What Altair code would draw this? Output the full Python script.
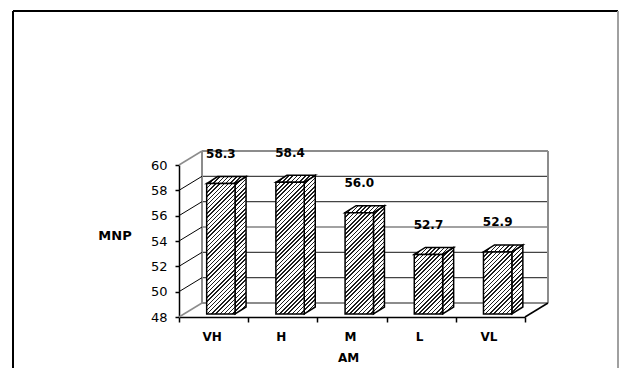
import json
import altair as alt
import pandas as pd

# ---------------- data ----------------
categories = ["VH", "H", "M", "L", "VL"]
mnp = [58.3, 58.4, 56.0, 52.7, 52.9]
y_ticks = [48, 50, 52, 54, 56, 58, 60]
x_title = "AM"
y_title = "MNP"

# ---------------- geometry / style ----------------
W, H = 346, 152
N = len(categories)
PX_X = W / N
Y_MIN, Y_MAX = y_ticks[0], y_ticks[-1]
PX_Y = H / (Y_MAX - Y_MIN)

WALL_DX = 23 / PX_X          # depth of the 3-D box (x units)
WALL_DY = 14 / PX_Y          # depth of the 3-D box (y units)
BAR_DY = 3 / PX_Y            # bars sit slightly behind the front plane
BAR_X0 = 0.40
BAR_W = 0.41
SIDE_DX = 11 / PX_X
SIDE_DY = 7 / PX_Y

FONT = "DejaVu Sans"

xs = alt.Scale(domain=[0, N], nice=False, zero=False)
ys = alt.Scale(domain=[Y_MIN, Y_MAX], nice=False, zero=False)


def hatch(w, h, period=4.2, frac=0.36, dark="#1e1e1e", light="#ffffff"):
    k = (w + h) / (w * w + h * h)
    n = (w + h) / period
    stops = []
    i = 0
    while i < n:
        a = round(i / n, 5)
        b = round(min((i + frac) / n, 1.0), 5)
        c = round(min((i + 1) / n, 1.0), 5)
        stops += [
            {"offset": a, "color": dark},
            {"offset": b, "color": dark},
            {"offset": b, "color": light},
            {"offset": c, "color": light},
        ]
        i += 1
    return {"gradient": "linear", "x1": 0, "y1": 0,
            "x2": round(k * w, 5), "y2": round(k * h, 5), "stops": stops}


x_axis = alt.Axis(
    values=list(range(N + 1)),
    labelExpr=f"datum.value < {N} ? {json.dumps(categories)}[datum.value] : ''",
    labelOffset=PX_X / 2 - 2, labelFlush=False, labelOverlap=False,
    labelFont=FONT, labelFontSize=12, labelFontWeight="bold", labelColor="black",
    labelPadding=9, tickSize=5, tickColor="black", tickWidth=1.5,
    domainColor="black", domainWidth=1.5, grid=False,
    title=x_title, titleFont=FONT, titleFontSize=12, titleFontWeight="bold",
    titleColor="black", titleX=169, titleY=40.5, titleBaseline="middle",
    titleAlign="center", titleAngle=0)

y_axis = alt.Axis(
    values=y_ticks, labelFont=FONT, labelFontSize=13, labelColor="black",
    labelOverlap=False, labelFlush=False,
    labelPadding=8, tickSize=4, tickColor="black", tickWidth=1.5,
    domainColor="black", domainWidth=1.5, grid=False,
    title=y_title, titleFont=FONT, titleFontSize=13, titleFontWeight="bold",
    titleColor="black", titleAngle=0, titleX=-64.5, titleY=70,
    titleAlign="center", titleBaseline="middle")


def X(field):
    return alt.X(field, scale=xs, axis=x_axis)


def Y(field):
    return alt.Y(field, scale=ys, axis=y_axis)


# ---------------- walls ----------------
grid_df = pd.DataFrame({"v": y_ticks})
grid_df["x0"] = 0.0
grid_df["xw"] = WALL_DX
grid_df["xe"] = N + WALL_DX
grid_df["vb"] = grid_df["v"] + WALL_DY
inner = grid_df[(grid_df.v > Y_MIN) & (grid_df.v < Y_MAX)]
outer = grid_df[(grid_df.v == Y_MIN) | (grid_df.v == Y_MAX)]

back_grid = alt.Chart(inner).mark_rule(color="#444444", strokeWidth=1.2).encode(
    x=X("xw:Q"), x2="xe:Q", y=Y("vb:Q"))

back_h = alt.Chart(outer).mark_rule(color="#8c8c8c", strokeWidth=2).encode(
    x=X("xw:Q"), x2="xe:Q", y=Y("vb:Q"))

vert_df = pd.DataFrame({"xv": [WALL_DX, N + WALL_DX],
                        "ya": [Y_MIN + WALL_DY] * 2,
                        "yb": [Y_MAX + WALL_DY] * 2})
back_v = alt.Chart(vert_df).mark_rule(color="#8c8c8c", strokeWidth=2).encode(
    x=X("xv:Q"), y=Y("ya:Q"), y2="yb:Q")

diag_in = alt.Chart(inner).mark_rule(color="black", strokeWidth=1).encode(
    x=X("x0:Q"), x2="xw:Q", y=Y("v:Q"), y2="vb:Q")
diag_out = alt.Chart(outer).mark_rule(color="#8c8c8c", strokeWidth=1.5).encode(
    x=X("x0:Q"), x2="xw:Q", y=Y("v:Q"), y2="vb:Q")

floor_df = pd.DataFrame({"xa": [N], "xb": [N + WALL_DX],
                         "ya": [Y_MIN], "yb": [Y_MIN + WALL_DY]})
floor_diag = alt.Chart(floor_df).mark_rule(color="black", strokeWidth=1.5).encode(
    x=X("xa:Q"), x2="xb:Q", y=Y("ya:Q"), y2="yb:Q")

# outer chart-area frame (decoration)
one = pd.DataFrame({"k": [0]})
FL, FT, FR, FB = -166, -154, 439, 205
frame_l = alt.Chart(one).mark_rule(color="black", strokeWidth=2).encode(
    x=alt.value(FL), y=alt.value(FT), y2=alt.value(FB))
frame_t = alt.Chart(one).mark_rule(color="black", strokeWidth=2).encode(
    x=alt.value(FL), x2=alt.value(FR), y=alt.value(FT))
frame_r = alt.Chart(one).mark_rule(color="#a0a0a0", strokeWidth=2).encode(
    x=alt.value(FR), y=alt.value(FT), y2=alt.value(FB))

layers = [back_grid, back_h, back_v, diag_in, diag_out, floor_diag,
          frame_l, frame_t, frame_r]

# ---------------- bars ----------------
for i, (cat, v) in enumerate(zip(categories, mnp)):
    xl = i + BAR_X0
    xr = xl + BAR_W
    top_v = v + BAR_DY
    base_v = Y_MIN + BAR_DY
    h_front = (v - Y_MIN) * PX_Y
    side_df = pd.DataFrame({"x": [xr, xr + SIDE_DX],
                            "hi": [top_v, top_v + SIDE_DY],
                            "lo": [base_v, base_v + SIDE_DY]})
    side = alt.Chart(side_df).mark_area(
        fill=hatch(SIDE_DX * PX_X, h_front + 7), stroke="black",
        strokeWidth=1.5, strokeJoin="miter", opacity=1).encode(
        x=X("x:Q"), y=Y("hi:Q"), y2="lo:Q")
    top_df = pd.DataFrame({"x": [xl, xl + SIDE_DX, xr, xr + SIDE_DX],
                           "hi": [top_v, top_v + SIDE_DY, top_v + SIDE_DY, top_v + SIDE_DY],
                           "lo": [top_v, top_v, top_v, top_v + SIDE_DY]})
    top = alt.Chart(top_df).mark_area(
        fill=hatch((BAR_W + SIDE_DX) * PX_X, 7), stroke="black",
        strokeWidth=1.5, strokeJoin="miter", opacity=1).encode(
        x=X("x:Q"), y=Y("hi:Q"), y2="lo:Q")
    front_df = pd.DataFrame({"xl": [xl], "xr": [xr], "top": [top_v], "base": [base_v]})
    front = alt.Chart(front_df).mark_rect(
        fill=hatch(BAR_W * PX_X, h_front), stroke="black", strokeWidth=1.5).encode(
        x=X("xl:Q"), x2="xr:Q", y=Y("top:Q"), y2="base:Q")
    layers += [side, top, front]

lab_df = pd.DataFrame({"cat": categories, "v": mnp,
                       "xc": [i + BAR_X0 + BAR_W / 2 for i in range(N)]})
labels = alt.Chart(lab_df).mark_text(
    font=FONT, fontSize=12, fontWeight="bold", color="black",
    align="center", baseline="middle", dy=-32.5).encode(
    x=X("xc:Q"), y=Y("v:Q"),
    text=alt.Text("v:Q", format=".1f"))
layers.append(labels)

chart = alt.layer(*layers).properties(
    width=W, height=H,
    padding={"left": 171, "top": 157, "right": 94, "bottom": 51},
    autosize=alt.AutoSizeParams(type="none"),
).configure_view(stroke=None)

chart.save("out.html", embed_options={"renderer": "svg", "actions": False})
